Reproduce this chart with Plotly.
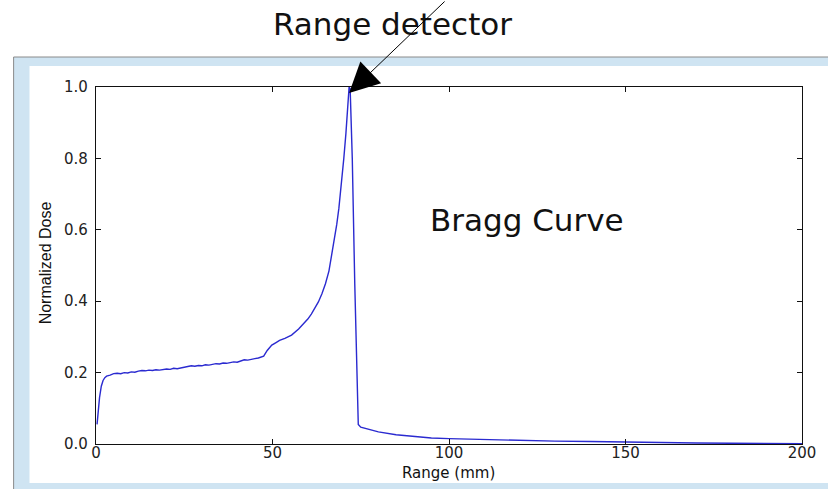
import plotly.graph_objects as go

# Depth-dose samples (range in mm, dose normalised to the peak)
range_mm = [
    0.3, 0.7, 1.0, 1.5, 2.0, 2.5, 3.0, 4.0,
    5, 6, 7, 8, 9, 10, 11, 12, 13, 14, 15, 16, 17, 18, 19, 20,
    21, 22, 23, 24, 25, 26, 27, 28, 29, 30, 31, 32, 33, 34, 35,
    36, 37, 38, 39, 40, 41, 42, 43, 44, 45, 46, 47, 47.5,
    48.5, 49.8, 51, 52, 53.5, 55.4, 57.4, 59, 60, 61, 62, 63, 64, 65,
    66, 66.7, 67.5, 68.2, 68.8, 69.5, 70.2, 70.8, 71.3, 71.7, 72.0,
    72.6, 73.3, 73.9, 74.3, 75, 77, 80, 85, 90, 95, 100,
    110, 120, 130, 140, 150, 160, 170, 180, 190, 200,
]
dose = [
    0.055, 0.100, 0.130, 0.162, 0.178, 0.186, 0.190, 0.193,
    0.197, 0.198, 0.197, 0.200, 0.199, 0.202, 0.201, 0.204, 0.206, 0.205, 0.207, 0.206, 0.208, 0.207, 0.209, 0.210,
    0.209, 0.212, 0.211, 0.213, 0.214, 0.216, 0.219, 0.218, 0.220, 0.219, 0.222, 0.221, 0.224, 0.225, 0.224,
    0.227, 0.226, 0.229, 0.230, 0.229, 0.232, 0.236, 0.235, 0.238, 0.239, 0.241, 0.244, 0.246,
    0.262, 0.277, 0.284, 0.290, 0.296, 0.305, 0.322, 0.338, 0.350, 0.364, 0.380, 0.398, 0.421, 0.449,
    0.485, 0.525, 0.570, 0.615, 0.660, 0.725, 0.800, 0.870, 0.935, 1.000, 0.995,
    0.800, 0.450, 0.150, 0.055, 0.047, 0.041, 0.034, 0.026, 0.021, 0.017, 0.015,
    0.012, 0.010, 0.008, 0.007, 0.005, 0.004, 0.003, 0.002, 0.0015, 0.001,
]

x_ticks = [0, 50, 100, 150, 200]
y_ticks = [0.0, 0.2, 0.4, 0.6, 0.8, 1.0]
y_tick_text = ["0.0", "0.2", "0.4", "0.6", "0.8", "1.0"]

fig = go.Figure()
fig.add_trace(go.Scatter(
    x=range_mm, y=dose, mode="lines",
    line=dict(color="#2a2ad0", width=1.4),
    hoverinfo="skip", showlegend=False,
))

tick_font = dict(family="DejaVu Sans", size=15, color="#222222")
axis_common = dict(
    showgrid=False, zeroline=False,
    showline=True, linecolor="#111111", linewidth=1.4, mirror="ticks",
    ticks="inside", ticklen=5, tickwidth=1, tickcolor="#111111",
    tickfont=tick_font,
)

fig.update_layout(
    width=828, height=489,
    margin=dict(l=96, r=21, t=87, b=45),
    paper_bgcolor="white", plot_bgcolor="white",
    xaxis=dict(range=[0, 200], tickvals=x_ticks, ticklabelstandoff=-5, **axis_common),
    yaxis=dict(range=[0, 1.0], tickvals=y_ticks, ticktext=y_tick_text, ticklabelstandoff=4, **axis_common),
    shapes=[
        # light-blue window frame with grey edge
        dict(type="rect", xref="paper", yref="paper", layer="below",
             x0=-0.1167, x1=1.04, y0=-0.14, y1=1.084,
             fillcolor="#cfe4f2", line=dict(color="#8a8a8a", width=1)),
        # white canvas inside the frame
        dict(type="rect", xref="paper", yref="paper", layer="below",
             x0=-0.0942, x1=1.04, y0=-0.109, y1=1.0588,
             fillcolor="white", line=dict(width=0)),
    ],
    annotations=[
        dict(text="Normalized Dose", xref="paper", yref="paper",
             x=(45 - 96) / 711, y=(444 - 263) / 357, textangle=-90, showarrow=False,
             xanchor="center", yanchor="middle",
             font=dict(family="Liberation Sans", size=16, color="#111111")),
        dict(text="Range (mm)", xref="paper", yref="paper",
             x=(451 - 96) / 711, y=(444 - 473) / 357, showarrow=False,
             xanchor="center", yanchor="middle",
             font=dict(family="DejaVu Sans", size=15, color="#111111")),
        dict(text="Bragg Curve", xref="paper", yref="paper",
             x=(530 - 96) / 711, y=(444 - 220) / 357, showarrow=False,
             xanchor="center", yanchor="middle",
             font=dict(family="DejaVu Sans", size=31, color="#111111")),
        dict(text="Range detector", xref="paper", yref="paper",
             x=(395 - 96) / 711, y=(444 - 24) / 357, showarrow=False,
             xanchor="center", yanchor="middle",
             font=dict(family="DejaVu Sans", size=31, color="#111111")),
        # arrow pointing at the dose peak
        dict(text="", x=71.7, y=0.983, xref="x", yref="y",
             showarrow=True, arrowhead=2, arrowsize=6, arrowwidth=1,
             arrowcolor="black", ax=97, ay=-93, standoff=0),
    ],
)

fig.write_html("out.html")
